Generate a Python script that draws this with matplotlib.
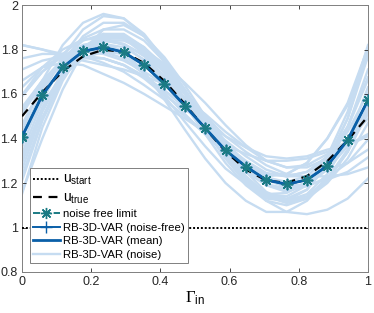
import matplotlib
matplotlib.use("Agg")
import matplotlib.pyplot as plt
import numpy as np

plt.rcParams['font.family'] = ['Liberation Sans', 'DejaVu Sans']
plt.rcParams['mathtext.fontset'] = 'custom'
plt.rcParams['mathtext.rm'] = 'Liberation Sans'
plt.rcParams['mathtext.sf'] = 'Liberation Sans'
plt.rcParams['mathtext.it'] = 'Liberation Sans:italic'
plt.rcParams['mathtext.cal'] = 'Liberation Serif'

# ---- data ----
x = [k / 17 for k in range(18)]
u_start = [1.0] * 18
u_true = [1.5, 1.608, 1.702, 1.769, 1.799, 1.789, 1.739, 1.658, 1.555,
          1.445, 1.342, 1.261, 1.211, 1.201, 1.231, 1.298, 1.392, 1.5]
noise_free_limit = [1.408, 1.595, 1.72, 1.792, 1.81, 1.788, 1.73, 1.645, 1.548,
                    1.447, 1.347, 1.274, 1.214, 1.194, 1.214, 1.277, 1.393, 1.573]
rb_noise_free = [1.408, 1.595, 1.72, 1.792, 1.81, 1.788, 1.73, 1.645, 1.548,
                 1.447, 1.347, 1.274, 1.214, 1.194, 1.214, 1.277, 1.393, 1.573]
rb_mean = [1.408, 1.595, 1.72, 1.792, 1.81, 1.788, 1.73, 1.645, 1.548,
           1.447, 1.347, 1.274, 1.214, 1.194, 1.214, 1.277, 1.393, 1.573]

noise_1 = [1.82, 1.80, 1.77, 1.75, 1.73, 1.71, 1.68, 1.645, 1.58, 1.50, 1.41, 1.34, 1.28, 1.24, 1.23, 1.23, 1.24, 1.27]
noise_2 = [1.16, 1.40, 1.62, 1.79, 1.89, 1.91, 1.86, 1.765, 1.64, 1.50, 1.37, 1.27, 1.19, 1.16, 1.19, 1.30, 1.49, 1.79]
noise_3 = [1.36, 1.60, 1.77, 1.89, 1.95, 1.94, 1.87, 1.755, 1.62, 1.48, 1.34, 1.23, 1.15, 1.12, 1.14, 1.22, 1.34, 1.52]
noise_4 = [1.66, 1.72, 1.74, 1.73, 1.69, 1.65, 1.60, 1.545, 1.49, 1.43, 1.37, 1.33, 1.30, 1.30, 1.31, 1.34, 1.37, 1.42]
noise_5 = [1.41, 1.62, 1.75, 1.82, 1.83, 1.79, 1.70, 1.575, 1.44, 1.31, 1.20, 1.12, 1.07, 1.07, 1.12, 1.22, 1.35, 1.54]
noise_6 = [1.31, 1.54, 1.70, 1.80, 1.84, 1.84, 1.80, 1.735, 1.65, 1.56, 1.46, 1.37, 1.30, 1.27, 1.28, 1.33, 1.39, 1.49]
noise_7 = [1.51, 1.65, 1.74, 1.79, 1.79, 1.76, 1.69, 1.605, 1.51, 1.42, 1.33, 1.27, 1.23, 1.24, 1.29, 1.40, 1.56, 1.81]
noise_8 = [1.26, 1.52, 1.69, 1.80, 1.85, 1.85, 1.79, 1.695, 1.58, 1.45, 1.32, 1.21, 1.12, 1.07, 1.06, 1.08, 1.13, 1.22]
noise_9 = [1.71, 1.75, 1.77, 1.77, 1.76, 1.73, 1.68, 1.615, 1.55, 1.47, 1.39, 1.32, 1.26, 1.23, 1.23, 1.26, 1.29, 1.35]
noise_10 = [1.21, 1.48, 1.67, 1.81, 1.87, 1.87, 1.81, 1.705, 1.58, 1.45, 1.32, 1.22, 1.15, 1.14, 1.19, 1.32, 1.52, 1.82]
noise_11 = [1.46, 1.64, 1.76, 1.84, 1.87, 1.85, 1.78, 1.675, 1.55, 1.42, 1.29, 1.19, 1.12, 1.10, 1.13, 1.22, 1.34, 1.52]
noise_12 = [1.76, 1.78, 1.78, 1.77, 1.74, 1.70, 1.64, 1.575, 1.50, 1.42, 1.34, 1.28, 1.24, 1.23, 1.25, 1.31, 1.39, 1.51]
noise_13 = [1.29, 1.53, 1.70, 1.81, 1.86, 1.86, 1.81, 1.725, 1.61, 1.49, 1.36, 1.25, 1.16, 1.12, 1.13, 1.20, 1.31, 1.47]
noise_14 = [1.59, 1.70, 1.78, 1.85, 1.89, 1.89, 1.84, 1.745, 1.62, 1.48, 1.34, 1.23, 1.15, 1.13, 1.17, 1.28, 1.45, 1.71]
noise_15 = [1.82, 1.80, 1.78, 1.77, 1.76, 1.73, 1.67, 1.595, 1.53, 1.47, 1.41, 1.36, 1.32, 1.31, 1.32, 1.35, 1.37, 1.41]
noise_16 = [1.33, 1.57, 1.74, 1.86, 1.92, 1.92, 1.86, 1.745, 1.60, 1.45, 1.31, 1.20, 1.13, 1.12, 1.17, 1.30, 1.49, 1.77]
noise_17 = [1.63, 1.72, 1.77, 1.79, 1.78, 1.75, 1.70, 1.645, 1.58, 1.51, 1.43, 1.36, 1.30, 1.27, 1.27, 1.31, 1.38, 1.51]
noise_18 = [1.15, 1.45, 1.66, 1.80, 1.86, 1.86, 1.80, 1.695, 1.57, 1.44, 1.31, 1.21, 1.14, 1.12, 1.15, 1.24, 1.39, 1.63]
noise_19 = [1.43, 1.66, 1.82, 1.92, 1.96, 1.94, 1.86, 1.745, 1.61, 1.47, 1.33, 1.22, 1.14, 1.11, 1.13, 1.21, 1.34, 1.55]
noise_20 = [1.53, 1.66, 1.73, 1.76, 1.76, 1.73, 1.68, 1.615, 1.54, 1.45, 1.36, 1.29, 1.24, 1.24, 1.29, 1.40, 1.55, 1.77]
noise_21 = [1.59, 1.70, 1.77, 1.82, 1.84, 1.825, 1.775, 1.70, 1.60, 1.49, 1.375, 1.285, 1.215, 1.18, 1.185, 1.225, 1.29, 1.395]
noise_22 = [1.41, 1.56, 1.68, 1.76, 1.79, 1.78, 1.73, 1.655, 1.565, 1.465, 1.37, 1.30, 1.245, 1.23, 1.25, 1.32, 1.43, 1.605]
noise_23 = [1.46, 1.635, 1.745, 1.805, 1.81, 1.775, 1.695, 1.59, 1.475, 1.365, 1.265, 1.195, 1.15, 1.155, 1.205, 1.31, 1.455, 1.675]
noise_24 = [1.52, 1.66, 1.755, 1.815, 1.84, 1.825, 1.77, 1.68, 1.575, 1.46, 1.35, 1.26, 1.195, 1.175, 1.20, 1.28, 1.39, 1.56]
noise_25 = [1.595, 1.72, 1.80, 1.845, 1.85, 1.82, 1.75, 1.66, 1.555, 1.445, 1.335, 1.25, 1.19, 1.17, 1.19, 1.26, 1.365, 1.53]
noise_26 = [1.54, 1.66, 1.735, 1.785, 1.805, 1.79, 1.73, 1.645, 1.555, 1.46, 1.365, 1.285, 1.22, 1.19, 1.19, 1.215, 1.25, 1.315]
noise_27 = [1.23, 1.495, 1.68, 1.80, 1.85, 1.85, 1.80, 1.715, 1.61, 1.50, 1.385, 1.29, 1.22, 1.195, 1.215, 1.285, 1.39, 1.56]
noise_28 = [1.42, 1.60, 1.72, 1.80, 1.825, 1.81, 1.755, 1.675, 1.58, 1.48, 1.375, 1.29, 1.225, 1.205, 1.23, 1.315, 1.45, 1.665]
noise_runs = [noise_1, noise_2, noise_3, noise_4, noise_5, noise_6, noise_7, noise_8, noise_9, noise_10,
              noise_11, noise_12, noise_13, noise_14, noise_15, noise_16, noise_17, noise_18, noise_19, noise_20,
              noise_21, noise_22, noise_23, noise_24, noise_25, noise_26, noise_27, noise_28]

xticks = [0, 0.2, 0.4, 0.6, 0.8, 1]
xticklabels = ['0', '0.2', '0.4', '0.6', '0.8', '1']
yticks = [0.8, 1, 1.2, 1.4, 1.6, 1.8, 2]
yticklabels = ['0.8', '1', '1.2', '1.4', '1.6', '1.8', '2']

legend_labels = [r'u$_{\mathrm{start}}$', r'u$_{\mathrm{true}}$', 'noise free limit',
                 'RB-3D-VAR (noise-free)', 'RB-3D-VAR (mean)', 'RB-3D-VAR (noise)']

# ---- figure ----
fig = plt.figure(figsize=(3.74, 3.13), dpi=100)
ax = fig.add_axes([22 / 374, 1 - 272 / 313, 346 / 374, 267 / 313])

light = '#c6dcf1'
blue = '#0a5fa8'
teal = '#1b7b84'
star = (8, 2, 0)

for run in noise_runs:
    ax.plot(x, run, color=light, lw=1.7, zorder=1, solid_joinstyle='round')
l_noise = ax.lines[0]

l_start, = ax.plot([0, 1], [u_start[0], u_start[-1]], color='black', ls=(0, (1, 1)), lw=1.4, zorder=3)
l_true, = ax.plot(x, u_true, color='black', ls=(0, (4, 3)), lw=1.6, zorder=3)
l_nf, = ax.plot(x, noise_free_limit, color=teal, ls='--', marker=star, ms=8, mew=1.0, lw=1.4, zorder=4)
l_rbnf, = ax.plot(x, rb_noise_free, color=blue, marker='+', ms=8, mew=1.0, lw=1.4, zorder=5)
l_mean, = ax.plot(x, rb_mean, color=blue, lw=2.0, zorder=6)
ax.plot(x, noise_free_limit, color=teal, ls='none', marker=star, ms=8, mew=1.0, zorder=7)

ax.set_xlim(0, 1)
ax.set_ylim(0.8, 2)
ax.set_xticks(xticks)
ax.set_xticklabels(xticklabels)
ax.set_yticks(yticks)
ax.set_yticklabels(yticklabels)
ax.tick_params(direction='in', length=3, width=0.6, labelsize=9, colors='#262626',
               top=True, right=True, pad=3)
for sp in ax.spines.values():
    sp.set_color('#808080')
    sp.set_linewidth(0.7)

ax.set_xlabel(r'$\mathcal{\Gamma}_{\mathsf{in}}$', fontsize=12, labelpad=1)

leg = ax.legend([l_start, l_true, l_nf, l_rbnf, l_mean, l_noise], legend_labels,
                loc='lower left', bbox_to_anchor=(0.023, 0.034), borderaxespad=0,
                fontsize=8.2, handlelength=2.3, handletextpad=0.3, labelspacing=0.3,
                borderpad=0.3, fancybox=False, framealpha=1, edgecolor='#808080')
leg.get_frame().set_linewidth(0.7)
leg.set_zorder(10)
for t in leg.get_texts()[:2]:
    t.set_fontsize(10)

fig.savefig('out.png', dpi=100)
